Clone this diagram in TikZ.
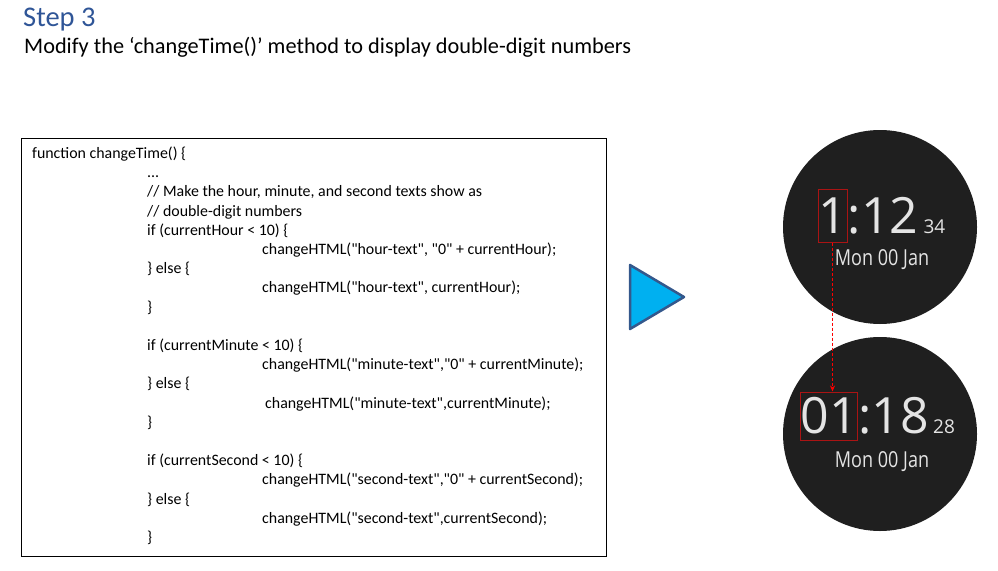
\documentclass[tikz,border=0pt]{standalone}
\usepackage{fontspec}
\setmainfont{Carlito}
\newfontfamily\codefont{Carlito}
\newfontfamily\watchfont{Open Sans}
\newfontfamily\datefont[FakeStretch=0.82]{Open Sans}
\usetikzlibrary{positioning,arrows.meta}
\definecolor{titleblue}{RGB}{47,85,151}
\definecolor{playfill}{RGB}{0,176,240}
\definecolor{playedge}{RGB}{52,88,140}
\definecolor{watchface}{RGB}{31,31,31}
\definecolor{watchtext}{RGB}{228,228,228}
\definecolor{boxred}{RGB}{170,20,20}

\begin{document}
\begin{tikzpicture}[x=1pt, y=-1pt,
    codeline/.style={anchor=base west, inner sep=0pt, font=\codefont\fontsize{15.9}{19}\selectfont},
    watch/.style={circle, fill=watchface, minimum size=194pt, inner sep=0pt},
    bigdigits/.style={text=watchtext, inner sep=0pt, font=\watchfont\fontsize{50}{50}\selectfont},
    smalldigits/.style={text=watchtext, inner sep=0pt, anchor=base west, font=\watchfont\fontsize{19}{19}\selectfont},
    datetext/.style={text=watchtext, inner sep=0pt, font=\datefont\fontsize{22}{22}\selectfont},
    hourbox/.style={bigdigits, draw=boxred, line width=1pt},
]
    \useasboundingbox (0,0) rectangle (998,570);

    % heading
    \node[anchor=base west, inner sep=0pt, text=titleblue, font=\fontsize{28.5}{32}\selectfont] (title) at (23,27) {Step 3};
    \node[anchor=base west, inner sep=0pt, font=\fontsize{22.3}{26}\selectfont] (subtitle) at (24,53) {Modify the ‘changeTime()’ method to display double-digit numbers};

    % code listing
    \node[draw, line width=0.8pt, minimum width=585pt, minimum height=418pt, inner sep=0pt] (code) at (313.5,347) {};
    \node[codeline] (l1) at (32,158.5) {function changeTime() \{};
    \node[codeline] (l2) at (147,177.7) {...};
    \node[codeline] (l3) at (147,196.9) {// Make the hour, minute, and second texts show as};
    \node[codeline] (l4) at (147,216.1) {// double-digit numbers};
    \node[codeline] (l5) at (147,235.3) {if (currentHour < 10) \{};
    \node[codeline] (l6) at (262,254.5) {changeHTML("hour-text", "0" + currentHour);};
    \node[codeline] (l7) at (147,273.7) {\} else \{};
    \node[codeline] (l8) at (262,292.9) {changeHTML("hour-text", currentHour);};
    \node[codeline] (l9) at (147,312.1) {\}};
    \node[codeline] (l11) at (147,350.5) {if (currentMinute < 10) \{};
    \node[codeline] (l12) at (262,369.7) {changeHTML("minute-text","0" + currentMinute);};
    \node[codeline] (l13) at (147,388.9) {\} else \{};
    \node[codeline] (l14) at (265,408.1) {changeHTML("minute-text",currentMinute);};
    \node[codeline] (l15) at (147,427.3) {\}};
    \node[codeline] (l17) at (147,465.7) {if (currentSecond < 10) \{};
    \node[codeline] (l18) at (262,484.9) {changeHTML("second-text","0" + currentSecond);};
    \node[codeline] (l19) at (147,504.1) {\} else \{};
    \node[codeline] (l20) at (262,523.3) {changeHTML("second-text",currentSecond);};
    \node[codeline] (l21) at (147,542.5) {\}};

    % play arrow
    \draw[fill=playfill, draw=playedge, line width=2.5pt, line join=round]
        (630,265) -- (630,329) -- (684,297) -- cycle;

    % watch before
    \node[watch] (watchA) at (880,227) {};
    \node[hourbox, minimum width=29pt, minimum height=53pt] (hourA) at (832.5,215.5) {1};
    \node[bigdigits, anchor=base west] (restA) at (hourA.base east) {:12};
    \node[smalldigits, right=5pt of restA.base east, anchor=base west] (secA) {34};
    \node[datetext] (dateA) at (882,260) {Mon 00 Jan};

    % watch after
    \node[watch] (watchB) at (880,434) {};
    \node[hourbox, minimum width=56pt, minimum height=48pt] (hourB) at (829,416) {01};
    \node[bigdigits, anchor=base west] (restB) at (hourB.base east) {:18};
    \node[smalldigits, right=4pt of restB.base east, anchor=base west] (secB) {28};
    \node[datetext] (dateB) at (882,462) {Mon 00 Jan};

    \draw[-{Stealth[length=6pt, width=5pt]}, red, line width=1.2pt, dash pattern=on 3pt off 2pt]
        (hourA.south) -- (hourA.south |- hourB.north);
\end{tikzpicture}
\end{document}
